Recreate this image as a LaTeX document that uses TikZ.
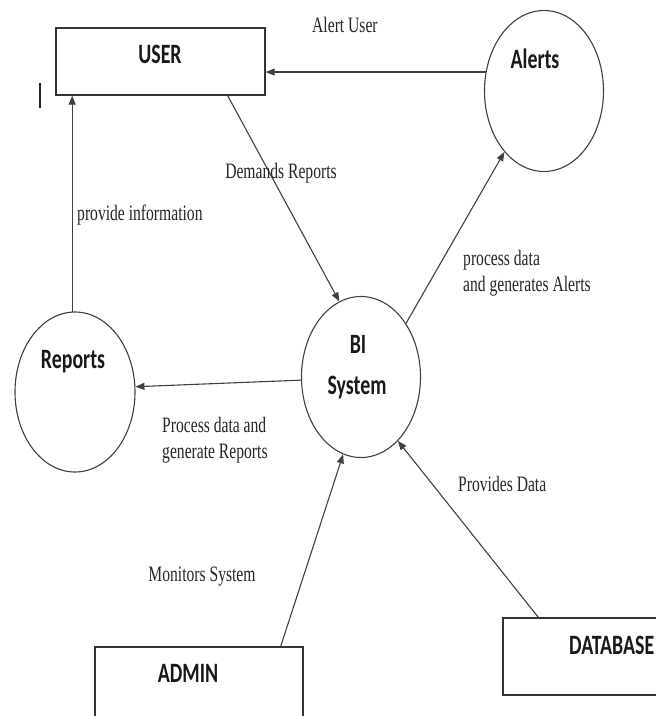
\documentclass[tikz,border=0pt]{standalone}
\usepackage{fontspec}
\setmainfont{Liberation Serif}[FakeStretch=0.71]
\newfontfamily\calib{Carlito}[FakeStretch=0.71]
\usetikzlibrary{shapes.geometric,arrows.meta,calc}

\tikzset{
  ent/.style={draw=black!80, line width=1.4pt, rectangle, inner sep=0pt},
  proc/.style={draw=black!75, line width=1.1pt, ellipse, inner sep=0pt,
               minimum width=119pt, minimum height=161pt},
  title/.style={font=\calib\bfseries\fontsize{28}{32}\selectfont, text=black!90,
                inner sep=0pt, anchor=base},
  lbl/.style={font=\fontsize{22}{26}\selectfont, text=black!85, inner sep=0pt, anchor=base},
  lbll/.style={lbl, anchor=base west},
  flow/.style={draw=black!75, line width=1.1pt, -{Triangle[length=9pt,width=7pt]}},
}

\begin{document}
\begin{tikzpicture}[x=1pt,y=-1pt]
\useasboundingbox (0,0) rectangle (656,716);
\clip (0,0) rectangle (656,716);
\fill[white] (0,0) rectangle (656,716);

% external entities
\node[ent, minimum width=209pt, minimum height=67pt] (user) at (160.5,61.5) {};
\node[title] (usert) at (160,63) {USER};
\node[ent, minimum width=208pt, minimum height=120pt] (admin) at (199,707) {};
\node[title] (admint) at (188,682) {ADMIN};
\node[ent, minimum width=210pt, minimum height=77pt] (db) at (608,656.5) {};
\node[title, anchor=base west] (dbt) at (569,654) {DATABASE};

% processes and outputs
\node[proc] (alerts) at (544,91) {};
\node[title] (alertst) at (535,68) {Alerts};
\node[proc] (bi) at (361,377) {};
\node[title] (bit1) at (358,353) {BI};
\node[title] (bit2) at (357,394) {System};
\node[proc, minimum width=120pt, minimum height=160pt] (reports) at (75,392) {};
\node[title] (reportst) at (73,368) {Reports};

% stray cursor mark
\draw[line width=2.5pt, black!85] (40,83) -- (40,108);

% data flows
\draw[flow] (alerts.162) -- (alerts.162 -| user.east);
\draw[flow] ([xshift=-38pt]user.south east) -- (bi.106);
\draw[flow] (reports.92) -- (reports.92 |- user.south);
\draw[flow] (bi.50) -- (alerts.237);
\draw[flow] (bi.183) -- (reports.5);
\draw[flow] ([xshift=-23pt]admin.north east) -- (bi.257);
\draw[flow] ([xshift=36pt]db.north west) -- (bi.300);

% flow labels
\node[lbll] (l1) at (312,32) {Alert User};
\node[lbl] (l2) at (281,178) {Demands Reports};
\node[lbll] (l3) at (77,220) {provide information};
\node[lbll] (l4a) at (463,265) {process data};
\node[lbll] (l4b) at (463,291) {and generates Alerts};
\node[lbll] (l5a) at (162,432) {Process data and};
\node[lbll] (l5b) at (162,458) {generate Reports};
\node[lbll] (l6) at (458,491) {Provides Data};
\node[lbl] (l7) at (202,581) {Monitors System};
\end{tikzpicture}
\end{document}
